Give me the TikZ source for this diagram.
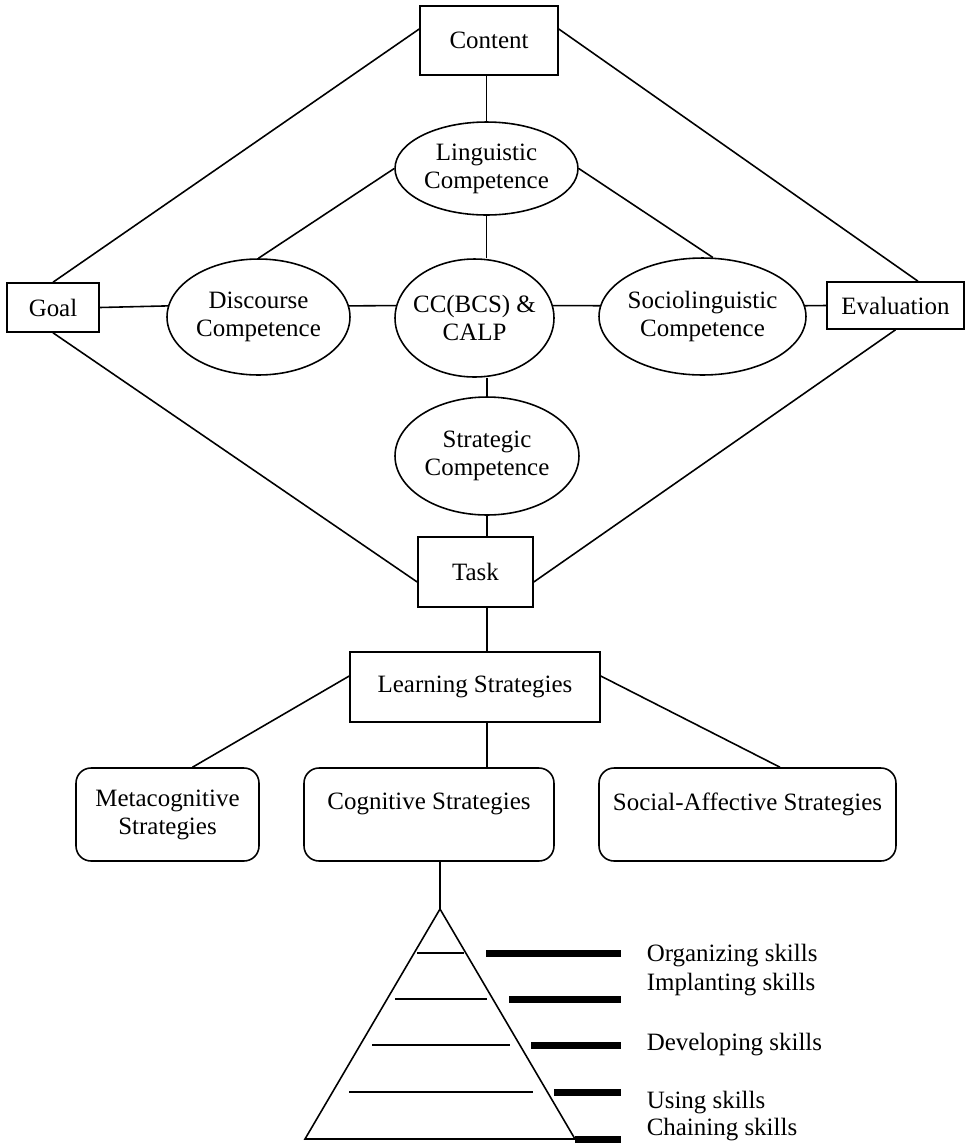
\documentclass[tikz,border=0pt]{standalone}
\usepackage{fontspec}
\setmainfont{Liberation Serif}
\usepackage{tikz}
\usetikzlibrary{shapes.geometric}
\usetikzlibrary{arrows}
\tikzset{>=latex}

\begin{document}
\begin{tikzpicture}[x=0.02cm, y=-0.02cm]
                % frame = square box, oval = competence, soft = strategy box
                \tikzstyle{every node}=[font=\fontsize{14.2}{16}\selectfont, align=center, line width=0.9pt]
                \tikzstyle{every edge}=[black, line width=0.9pt, draw]
                \tikzstyle{frame}=[rectangle, draw=black]
                \tikzstyle{oval}=[ellipse, draw=black, inner xsep=-1.2mm, inner ysep=0pt]
                \tikzstyle{soft}=[rectangle, rounded corners=3mm, draw=black, minimum height=18.6mm]
                \tikzstyle{skill}=[anchor=base west, inner sep=0pt]
                \useasboundingbox (0,0) rectangle (965,1144);

                \node[frame, minimum width=27.6mm, minimum height=13.8mm] (Content) at (489,40.5) {Content};
                \node[frame, minimum width=18.4mm, minimum height=9.8mm] (Goal) at (53,307.5) {Goal};
                \node[frame, minimum width=27.4mm, minimum height=9.4mm] (Eval) at (895.5,305.5) {Evaluation};
                \node[frame, minimum width=23mm, minimum height=14mm] (Task) at (475.5,572) {Task};
                \node[frame, minimum width=50mm, minimum height=14mm] (Learn) at (475,687) {Learning Strategies};

                \node[oval, minimum width=36.6mm, minimum height=18.6mm] (Ling) at (486.5,168.5) {Linguistic\\Competence};
                \node[oval, minimum width=36.6mm, minimum height=23.2mm] (Disc) at (258.5,317) {Discourse\\Competence};
                \node[oval, minimum width=31.8mm, minimum height=23.6mm] (CC) at (474.5,318) {CC(BCS) \&\\CALP};
                \node[oval, minimum width=41.4mm, minimum height=23.4mm] (Socio) at (702.5,316.5) {Sociolinguistic\\Competence};
                \node[oval, minimum width=36.8mm, minimum height=23.6mm] (Strat) at (487,456) {Strategic\\Competence};

                \node[soft, minimum width=36.6mm] (Meta) at (167.5,814.5) {Metacognitive\\Strategies};
                \node[soft, minimum width=50mm, text depth=5.2mm] (Cog) at (429,814.5) {Cognitive Strategies};
                \node[soft, minimum width=59.4mm, text depth=5.2mm] (Social) at (747.5,814.5) {Social-Affective Strategies};

                % outer diamond
                \draw ([yshift=2.3mm]Content.west) edge (Goal.north);
                \draw ([yshift=2.3mm]Content.east) edge ([xshift=4.5mm]Eval.north);
                \draw (Goal.south) edge ([yshift=-2mm]Task.west);
                \draw (Eval.south) edge ([yshift=-2mm]Task.east);

                % inner diamond
                \draw (Ling.north |- Content.south) edge (Ling.north);
                \draw (Ling.west) edge (Disc.north);
                \draw (Ling.east) edge (Socio.80);
                \draw (Ling.south) edge (Ling.south |- CC.north);
                \draw (Goal.east) edge (Disc.173);
                \draw (Disc.7) edge (CC.171);
                \draw (CC.9) edge (Socio.174);
                \draw (Socio.6) edge (Eval.west);
                \draw (Strat.north |- CC.south) edge (Strat.north);
                \draw (Strat.south) edge (Strat.south |- Task.north);

                % strategies
                \draw (Strat.south |- Task.south) edge (Strat.south |- Learn.north);
                \draw ([yshift=2.2mm]Learn.west) edge ([xshift=5mm]Meta.north);
                \draw ([yshift=2.2mm]Learn.east) edge ([xshift=6.5mm]Social.north);
                \draw (Strat.south |- Learn.south) edge (Strat.south |- Cog.north);

                % skills pyramid
                \coordinate (apex) at (440,909);
                \coordinate (baseL) at (305,1139);
                \coordinate (baseR) at (575,1139);
                \draw (apex |- Cog.south) edge (apex);
                \draw[line width=0.9pt] (apex) -- (baseL) -- (baseR) -- cycle;
                \foreach \y/\a/\b/\c in {953/417/464/486, 999/395/487/509, 1045/372/510/531, 1092/349/533/554}{
                        \draw[line width=0.9pt] (\a,\y) -- (\b,\y);
                        \draw[line width=1.4mm] (\c,\y) -- (621,\y);
                }
                \draw[line width=1.4mm] (baseR) -- (621,1139);

                \node[skill] (Org) at (646,961) {Organizing skills};
                \node[skill] (Impl) at (646,990) {Implanting skills};
                \node[skill] (Dev) at (646,1050) {Developing skills};
                \node[skill] (Use) at (646,1108.5) {Using skills};
                \node[skill] (Chain) at (646,1135) {Chaining skills};

        \end{tikzpicture}
\end{document}
